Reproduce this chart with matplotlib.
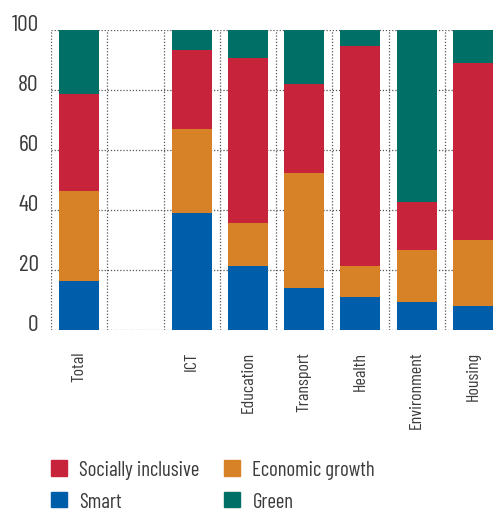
import numpy as np
import matplotlib
matplotlib.use("Agg")
import matplotlib.pyplot as plt
from matplotlib.patches import Patch

plt.rcParams['font.family'] = ['Barlow Condensed', 'DejaVu Sans']

# shares by sector (percent), bottom to top
categories = ['Total', '', 'ICT', 'Education', 'Transport', 'Health', 'Environment', 'Housing']
smart = [16.5, 0, 39.1, 21.5, 13.9, 10.9, 9.2, 7.9]
economic = [30.0, 0, 28.0, 14.3, 38.5, 10.6, 17.6, 22.1]
social = [32.1, 0, 26.2, 54.9, 29.6, 73.2, 16.0, 58.9]
green = [21.4, 0, 6.7, 9.3, 18.0, 5.3, 57.2, 11.1]
yticks = [0, 20, 40, 60, 80, 100]

c_smart = '#005da9'
c_econ = '#d88228'
c_social = '#c7233b'
c_green = '#006f66'
txt = '#3c3c3c'

fig = plt.figure(figsize=(4.93, 5.10), dpi=100)
ax = fig.add_axes([51/493, 1 - 331/510, 450/493, 300/510])

x = np.arange(len(categories))
w = 0.71
b = np.zeros(len(categories))
for vals, col in [(smart, c_smart), (economic, c_econ), (social, c_social), (green, c_green)]:
    ax.bar(x, vals, w, bottom=b, color=col, zorder=3, linewidth=0)
    b += np.array(vals)

ax.set_xlim(-0.5, 7.5)
ax.set_ylim(0, 100)
ax.set_yticks(yticks)
ax.set_yticklabels([str(v) for v in yticks], fontsize=17, color=txt)
for lab in ax.get_yticklabels():
    lab.set_va('baseline')
ax.set_xticks(x)
ax.set_xticklabels(categories, rotation=90, fontsize=13, color=txt)
ax.tick_params(axis='both', length=0)
ax.tick_params(axis='y', pad=9)
ax.tick_params(axis='x', pad=15)

# dotted grid: horizontal at ticks, vertical between categories
for v in yticks:
    ax.axhline(v, color='#555555', lw=0.9, ls=(0, (1, 1.5)), zorder=1)
for xv in np.arange(-0.5, 8.0, 1.0):
    ax.axvline(xv, color='#555555', lw=0.9, ls=(0, (1, 1.5)), zorder=1)
for s in ax.spines.values():
    s.set_visible(False)

handles = [Patch(color=c_social), Patch(color=c_smart), Patch(color=c_econ), Patch(color=c_green)]
labels = ['Socially inclusive', 'Smart', 'Economic growth', 'Green']
fig.legend(handles, labels, ncol=2, loc='upper left', bbox_to_anchor=(51/493, 1 - 461/510),
           frameon=False, fontsize=15, borderpad=0, borderaxespad=0,
           handlelength=0.77, handleheight=0.77,
           handletextpad=0.58, columnspacing=1.2, labelspacing=0.6, labelcolor=txt)

fig.savefig('out.png', dpi=100)
